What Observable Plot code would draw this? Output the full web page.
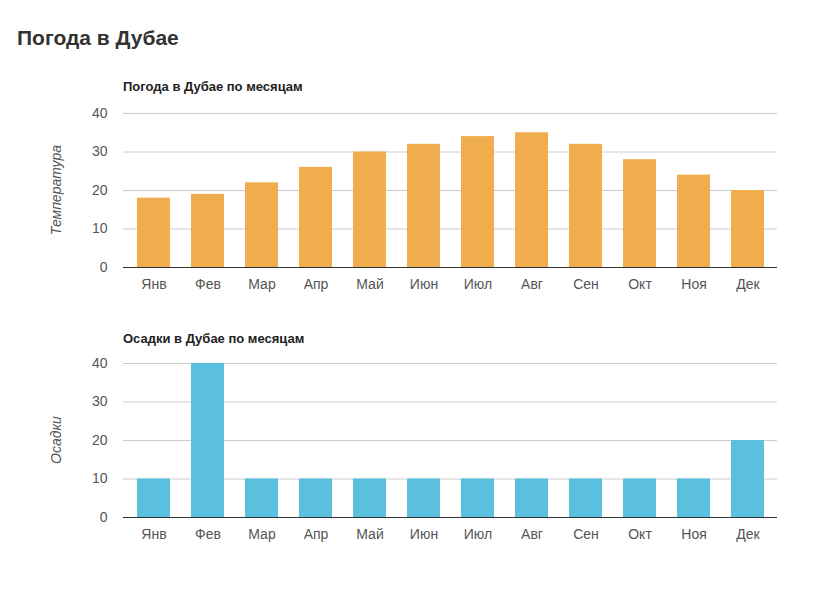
<!DOCTYPE html>
<html><head><meta charset="utf-8">
<script src="https://cdn.jsdelivr.net/npm/d3@7"></script>
<script src="https://cdn.jsdelivr.net/npm/@observablehq/plot@0.6"></script>
<style>
body{margin:0;background:#fff;font-family:Arial,"Liberation Sans",sans-serif;}
#wrap{position:relative;width:840px;height:590px;}
#title{position:absolute;left:17px;top:26px;font-size:21px;font-weight:bold;color:#333;}
.sub{position:absolute;left:123px;font-size:13px;font-weight:bold;color:#222;}
.chart{position:absolute;left:0;}
.ylab{position:absolute;font-size:14px;font-style:italic;color:#555;transform:rotate(-90deg);transform-origin:center;white-space:nowrap;}
</style></head>
<body><div id="wrap">
<div id="title">Погода в Дубае</div>
<div class="sub" style="top:79px">Погода в Дубае по месяцам</div>
<div class="sub" style="top:331px">Осадки в Дубае по месяцам</div>
<div id="c1" class="chart" style="top:100px"></div>
<div id="c2" class="chart" style="top:350px"></div>
</div>
<script>
const months = ["Янв","Фев","Мар","Апр","Май","Июн","Июл","Авг","Сен","Окт","Ноя","Дек"];
const temperature = [18,19,22,26,30,32,34,35,32,28,24,20];
const precipitation = [10,40,10,10,10,10,10,10,10,10,10,20];
const yTicks = [0,10,20,30,40];

function chart(values, color) {
  const data = months.map((m,i)=>({month:m, value:values[i]}));
  return Plot.plot({
    width: 840, height: 200,
    marginLeft: 123, marginRight: 63, marginTop: 13, marginBottom: 33,
    style: {fontFamily: "Arial, 'Liberation Sans', sans-serif", fontSize: "14px", color: "#555", background: "transparent"},
    x: {domain: months, paddingInner: 0.39, paddingOuter: 0.2, label: null, tickSize: 0, tickPadding: 12},
    y: {domain: [0,40], ticks: yTicks, label: null, tickSize: 0, tickPadding: 16},
    marks: [
      Plot.gridY(yTicks.filter(t=>t>0), {stroke: "#ccc", strokeOpacity: 1}),
      Plot.barY(data, {x: "month", y: "value", fill: color}),
      Plot.ruleY([0], {stroke: "#333", strokeWidth: 1})
    ]
  });
}
document.getElementById("c1").appendChild(chart(temperature, "#f0ad4e"));
document.getElementById("c2").appendChild(chart(precipitation, "#5bc0de"));

function ylab(text, cy) {
  const d = document.createElement("div");
  d.className = "ylab"; d.textContent = text;
  document.getElementById("wrap").appendChild(d);
  const w = d.offsetWidth, h = d.offsetHeight;
  d.style.left = (56 - w/2) + "px";
  d.style.top = (cy - h/2) + "px";
}
ylab("Температура", 190);
ylab("Осадки", 440);
</script>
</body></html>
